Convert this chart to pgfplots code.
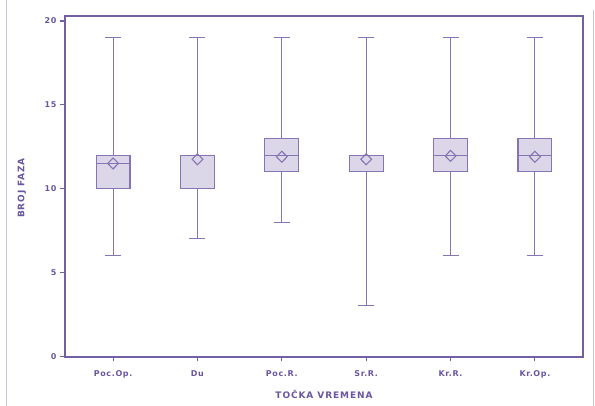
\documentclass[border=0pt]{standalone}
\usepackage{pgfplots}
\pgfplotsset{compat=1.18}
\usepgfplotslibrary{statistics}
\usepackage{fontspec}
\setmainfont{DejaVu Sans}
\newfontfamily\tickfont[LetterSpace=8]{DejaVu Sans}
\newfontfamily\labfont[LetterSpace=10]{DejaVu Sans}
\definecolor{ln}{HTML}{8675B2}
\definecolor{ax}{HTML}{7360A3}
\definecolor{txt}{HTML}{6A56A0}
\definecolor{bx}{HTML}{DCD7E8}
\definecolor{pg}{HTML}{C9C1DD}
\begin{document}
\begin{tikzpicture}
\useasboundingbox (0,0) rectangle (595pt,406pt);
\begin{axis}[
  at={(65pt,49pt)}, anchor=south west,
  scale only axis, width=518pt, height=341pt,
  xmin=-0.57, xmax=5.57, ymin=-0.05, ymax=20.3,
  xtick={0,1,2,3,4,5},
  xticklabels={Poc.Op., Du, Poc.R., Sr.R., Kr.R., Kr.Op.},
  ytick={0,5,10,15,20},
  tick pos=left, tick align=outside,
  major tick length=4.5pt,
  tick style={ax, line width=1.1pt},
  axis line style={ax, line width=1.4pt},
  ticklabel style={font=\tickfont\bfseries\fontsize{8}{9}\selectfont, text=txt},
  xticklabel style={yshift=-5.5pt},
  yticklabel style={xshift=-0.5pt},
  /pgf/number format/assume math mode=true,
  boxplot/draw direction=y,
  boxplot/box extend=0.4,
  boxplot/whisker extend=0.19,
]
\addplot+[boxplot prepared={draw position=0, lower whisker=6, lower quartile=10, median=11.5, upper quartile=12, upper whisker=19}, draw=ln, fill=bx, line width=1.1pt, mark=none, solid] coordinates {};
\addplot+[boxplot prepared={draw position=1, lower whisker=7, lower quartile=10, median=12, upper quartile=12, upper whisker=19}, draw=ln, fill=bx, line width=1.1pt, mark=none, solid] coordinates {};
\addplot+[boxplot prepared={draw position=2, lower whisker=8, lower quartile=11, median=12, upper quartile=13, upper whisker=19}, draw=ln, fill=bx, line width=1.1pt, mark=none, solid] coordinates {};
\addplot+[boxplot prepared={draw position=3, lower whisker=3, lower quartile=11, median=12, upper quartile=12, upper whisker=19}, draw=ln, fill=bx, line width=1.1pt, mark=none, solid] coordinates {};
\addplot+[boxplot prepared={draw position=4, lower whisker=6, lower quartile=11, median=12, upper quartile=13, upper whisker=19}, draw=ln, fill=bx, line width=1.1pt, mark=none, solid] coordinates {};
\addplot+[boxplot prepared={draw position=5, lower whisker=6, lower quartile=11, median=12, upper quartile=13, upper whisker=19}, draw=ln, fill=bx, line width=1.1pt, mark=none, solid] coordinates {};
\addplot[only marks, mark=diamond, mark size=5.5pt,
  mark options={draw=ln, fill=bx, line width=1.1pt, xscale=1.3}]
  coordinates {(0,11.5) (1,11.75) (2,11.9) (3,11.75) (4,11.95) (5,11.9)};
\end{axis}
\draw[pg, line width=1pt] (6pt,0pt) -- (6pt,406pt);
\draw[pg, line width=1pt] (593pt,0pt) -- (593pt,396pt);
\node[rotate=90, text=txt, font=\labfont\bfseries\fontsize{9}{10}\selectfont] at (22pt,218pt) {BROJ FAZA};
\node[text=txt, font=\labfont\bfseries\fontsize{9}{10}\selectfont] at (324pt,12pt) {TOČKA VREMENA};
\end{tikzpicture}
\end{document}
